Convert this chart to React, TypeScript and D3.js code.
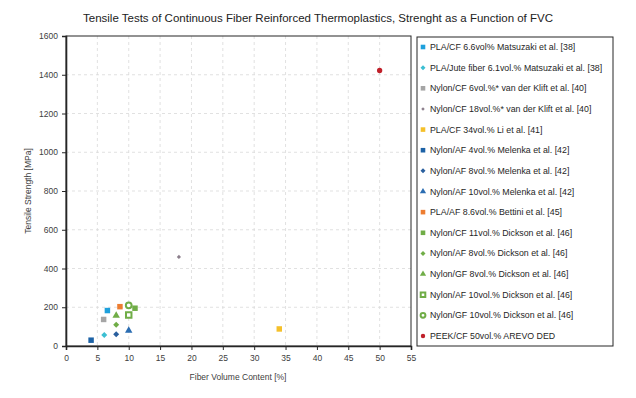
import React, { useRef, useEffect } from "react";
import * as d3 from "d3";

// series, in legend order
const labels = [
  "PLA/CF 6.6vol%  Matsuzaki et al. [38]",
  "PLA/Jute fiber 6.1vol.% Matsuzaki et al. [38]",
  "Nylon/CF 6vol.%* van der Klift et al. [40]",
  "Nylon/CF 18vol.%* van der Klift et al. [40]",
  "PLA/CF 34vol.%  Li et al. [41]",
  "Nylon/AF 4vol.% Melenka et al. [42]",
  "Nylon/AF 8vol.%  Melenka et al. [42]",
  "Nylon/AF 10vol.% Melenka et al. [42]",
  "PLA/AF 8.6vol.% Bettini et al. [45]",
  "Nylon/CF 11vol.% Dickson et al. [46]",
  "Nylon/AF 8vol.%  Dickson et al. [46]",
  "Nylon/GF 8vol.%  Dickson et al. [46]",
  "Nylon/AF 10vol.% Dickson et al. [46]",
  "Nylon/GF 10vol.% Dickson et al. [46]",
  "PEEK/CF 50vol.% AREVO DED",
];
const fvc = [6.6, 6.1, 6, 18, 34, 4, 8, 10, 8.6, 11, 8, 8, 10, 10, 50];
const strength = [183, 57, 137, 460, 88, 30, 61, 80, 203, 195, 110, 157, 160, 210, 1422];
const colors = [
  "#1ea0dc", "#3cbfd2", "#a5a5a5", "#8c7f8c", "#f5c02a", "#1c62a6", "#2a5f9e", "#2b6db2",
  "#ed7d31", "#70ad47", "#70ad47", "#70ad47", "#70ad47", "#70ad47", "#c0202a",
];
const shapes = [
  "square", "diamond", "square", "diamond", "square", "square", "diamond", "triangle",
  "square", "square", "diamond", "triangle", "hsquare", "hcircle", "circle",
];
const xTicks = d3.range(0, 56, 5);
const yTicks = d3.range(0, 1601, 200);

const App = () => {
  const svgRef = useRef(null);

  useEffect(() => {
    const svg = d3.select(svgRef.current);
    svg.selectAll("*").remove();
    const font = "Liberation Sans, Arial, sans-serif";

    const x = d3.scaleLinear().domain([0, 55]).range([66, 411]);
    const y = d3.scaleLinear().domain([0, 1600]).range([346, 36]);

    svg.append("rect").attr("width", 636).attr("height", 398).attr("fill", "#fff");

    // title
    svg.append("text")
      .attr("x", 318).attr("y", 22)
      .attr("text-anchor", "middle")
      .attr("font-family", font).attr("font-size", 11.5)
      .attr("fill", "#222")
      .text("Tensile Tests of Continuous Fiber Reinforced Thermoplastics, Strenght as a Function of FVC");

    // grid
    const grid = svg.append("g").attr("stroke", "#d9d9d9").attr("stroke-dasharray", "3,3").attr("stroke-width", 0.8);
    xTicks.slice(1, -1).forEach((t) => {
      grid.append("line").attr("x1", x(t)).attr("x2", x(t)).attr("y1", 36).attr("y2", 346);
    });
    yTicks.slice(1, -1).forEach((t) => {
      grid.append("line").attr("x1", 66).attr("x2", 411).attr("y1", y(t)).attr("y2", y(t));
    });

    // plot frame
    svg.append("rect")
      .attr("x", 66).attr("y", 36).attr("width", 345).attr("height", 310)
      .attr("fill", "none").attr("stroke", "#262626").attr("stroke-width", 1);

    // axes
    const xAxis = svg.append("g")
      .attr("transform", "translate(0,346)")
      .call(d3.axisBottom(x).tickValues(xTicks).tickSize(4).tickPadding(5));
    const yAxis = svg.append("g")
      .attr("transform", "translate(66,0)")
      .call(d3.axisLeft(y).tickValues(yTicks).tickFormat(d3.format("d")).tickSize(4).tickPadding(4));
    [xAxis, yAxis].forEach((a) => {
      a.select(".domain").attr("stroke", "#262626").attr("stroke-width", 1.6);
      a.selectAll(".tick line").attr("stroke", "#262626");
      a.selectAll("text").attr("font-family", font).attr("font-size", 8.5).attr("fill", "#404040");
    });

    svg.append("text")
      .attr("x", 238).attr("y", 380)
      .attr("text-anchor", "middle")
      .attr("font-family", font).attr("font-size", 8.5).attr("fill", "#404040")
      .text("Fiber Volume Content [%]");
    svg.append("text")
      .attr("transform", "translate(31,191) rotate(-90)")
      .attr("text-anchor", "middle")
      .attr("font-family", font).attr("font-size", 8.5).attr("fill", "#404040")
      .text("Tensile Strength [MPa]");

    const symType = (s) =>
      s === "triangle" ? d3.symbolTriangle
        : s === "circle" || s === "hcircle" ? d3.symbolCircle
        : d3.symbolSquare;
    const symSize = (s, i) => (i === 3 ? 9 : s === "diamond" ? 18 : s === "triangle" ? 24 : s === "hcircle" ? 26 : s === "circle" ? 22 : 30);
    const drawMarker = (g, i, scale) => {
      const s = shapes[i];
      const hollow = s.startsWith("h");
      g.append("path")
        .attr("d", d3.symbol().type(symType(s)).size(symSize(s, i) * scale)())
        .attr("transform", s === "diamond" ? "rotate(45)" : null)
        .attr("fill", hollow ? "#fff" : colors[i])
        .attr("stroke", hollow ? colors[i] : "none")
        .attr("stroke-width", hollow ? 2 : 0);
    };

    // points
    fvc.forEach((v, i) => {
      const g = svg.append("g").attr("transform", `translate(${x(v)},${y(strength[i])})`);
      drawMarker(g, i, 1);
    });

    // legend
    svg.append("rect")
      .attr("x", 417).attr("y", 37).attr("width", 196).attr("height", 309)
      .attr("fill", "#fff").attr("stroke", "#262626").attr("stroke-width", 1);
    const ly = d3.scalePoint().domain(d3.range(labels.length)).range([47, 336]);
    labels.forEach((lab, i) => {
      const g = svg.append("g").attr("transform", `translate(423,${ly(i)})`);
      drawMarker(g, i, 0.7);
      g.append("text")
        .attr("x", 7).attr("y", 3)
        .attr("font-family", font).attr("font-size", 8.8).attr("fill", "#262626")
        .text(lab);
    });
  }, []);

  return (
    <svg ref={svgRef} width={636} height={398} style={{ position: "absolute", left: 0, top: 0 }} />
  );
};

export default App;
